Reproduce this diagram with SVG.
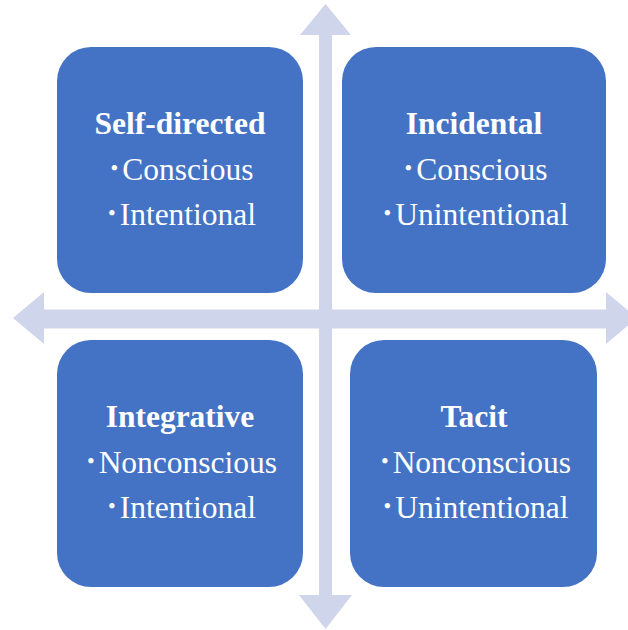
<svg xmlns="http://www.w3.org/2000/svg" width="628" height="630" viewBox="0 0 628 630">
<style>
.box{fill:#4472C4}
.arr{fill:#CFD5EA}
text{font-family:"Liberation Serif","Noto Sans CJK JP",serif;fill:#fff;text-anchor:middle;font-size:31.5px}
.t{font-weight:bold}
</style>
<rect width="628" height="630" fill="#fff"/>
<g id="connectors">
<path class="arr" d="M13,318 L44,292 L44,309.5 L319,309.5 L319,35 L300,35 L325.5,4 L351,35 L332,35 L332,309.5 L606,309.5 L606,292 L637,318 L606,344 L606,328.5 L332,328.5 L332,595 L352,595 L325.5,629 L299,595 L319,595 L319,328.5 L44,328.5 L44,344 Z"/>
</g>
<g id="self-directed">
<rect class="box" x="57" y="47" width="246" height="246" rx="34"/>
<text class="t" x="180" y="134">Self-directed</text>
<text x="180" y="180">･Conscious</text>
<text x="180" y="225">･Intentional</text>
</g>
<g id="incidental">
<rect class="box" x="342" y="47" width="264" height="246" rx="34"/>
<text class="t" x="474" y="134">Incidental</text>
<text x="474" y="180">･Conscious</text>
<text x="474" y="225">･Unintentional</text>
</g>
<g id="integrative">
<rect class="box" x="57" y="340" width="246" height="247" rx="34"/>
<text class="t" x="180" y="427">Integrative</text>
<text x="180" y="473">･Nonconscious</text>
<text x="180" y="518">･Intentional</text>
</g>
<g id="tacit">
<rect class="box" x="350" y="340" width="247" height="247" rx="34"/>
<text class="t" x="474" y="427">Tacit</text>
<text x="474" y="473">･Nonconscious</text>
<text x="474" y="518">･Unintentional</text>
</g>
</svg>
